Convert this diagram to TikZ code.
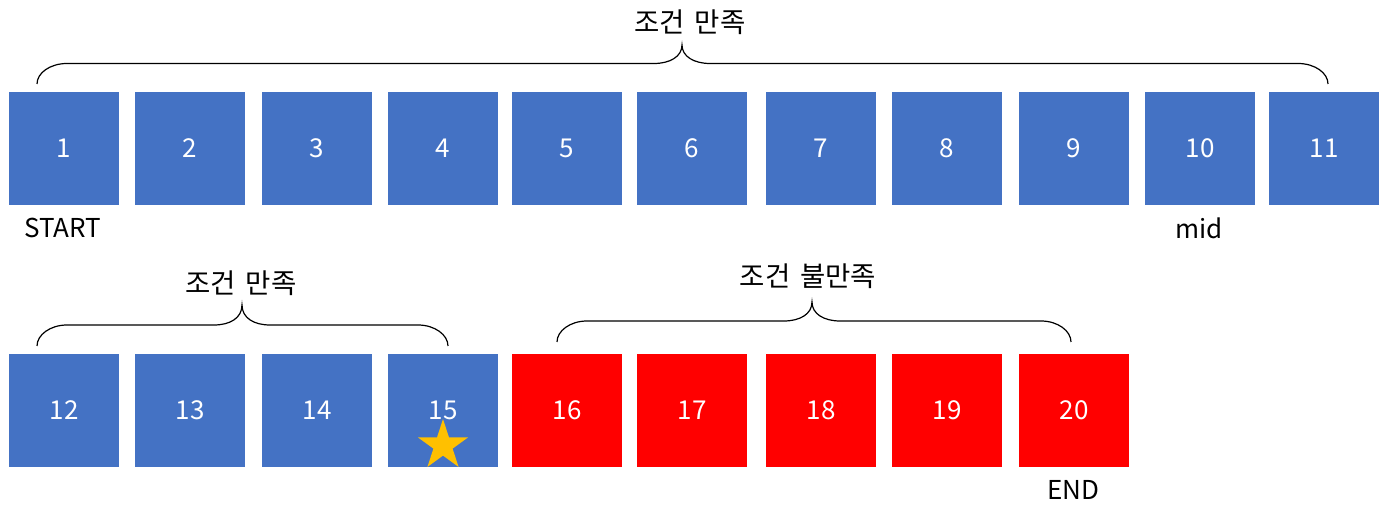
\documentclass[tikz,border=0pt]{standalone}
\usepackage{fontspec}
\setmainfont{Noto Sans CJK KR}
\definecolor{boxblue}{HTML}{4472C4}
\definecolor{boxred}{HTML}{FF0000}
\definecolor{stargold}{HTML}{FFC000}
\newcommand\mybrace[6]{%
 \draw[bracestyle] (#1,#5) .. controls (#1,{#5-11}) and ({#1+13},#4) .. ({#1+30},#4) -- ({#3-28},#4) .. controls ({#3-12},#4) and (#3,{#4-7}) .. (#3,#6) .. controls (#3,{#4-7}) and ({#3+12},#4) .. ({#3+28},#4) -- ({#2-30},#4) .. controls ({#2-13},#4) and (#2,{#5-11}) .. (#2,#5);}
\tikzset{
 cell/.style={minimum width=110pt, minimum height=113pt, inner sep=0pt, text=white, font=\fontsize{26}{30}\selectfont},
 bluecell/.style={cell, fill=boxblue},
 redcell/.style={cell, fill=boxred},
 lbl/.style={text=black, inner sep=0pt, font=\fontsize{26}{30}\selectfont},
 kor/.style={text=black, inner sep=0pt, font=\fontsize{27.5}{32}\selectfont},
 bracestyle/.style={draw=black, line width=1.2pt},
}
\begin{document}
\begin{tikzpicture}[x=1pt,y=-1pt]
\useasboundingbox (0,0) rectangle (1385,510);
% top row
\foreach \n/\x in {1/64,2/190,3/317,4/443,5/567,6/692,7/821,8/947,9/1074,10/1200,11/1324}{
 \node[bluecell] (b\n) at (\x,148.5) {\n};
}
% bottom row
\foreach \n/\x in {12/64,13/190,14/317,15/443}{
 \node[bluecell] (b\n) at (\x,410.5) {\n};
}
\foreach \n/\x in {16/567,17/692,18/821,19/947,20/1074}{
 \node[redcell] (b\n) at (\x,410.5) {\n};
}
% star
\coordinate (star15) at (443,445.5);
\fill[stargold] ({443+26.5*cos(-90)},{445.5+26.5*sin(-90)})
  \foreach \k in {1,...,9}{
    -- ({443+(mod(\k,2)==0 ? 26.5 : 10.1)*cos(-90+36*\k)},{445.5+(mod(\k,2)==0 ? 26.5 : 10.1)*sin(-90+36*\k)})
  } -- cycle;
% labels
\node[lbl] (startlbl) at (63,228) {START};
\node[lbl] (midlbl) at (1199,228) {mid};
\node[lbl] (endlbl) at (1073,490) {END};
% braces and titles
\mybrace{37}{1328}{682}{63.5}{84}{45}
\node[kor] (title1) at (690,22) {조건\hspace{0.35em}만족};
\mybrace{37}{448}{242}{325}{346}{305}
\node[kor] (title2) at (241,283) {조건\hspace{0.35em}만족};
\mybrace{557}{1071}{812}{321}{342}{302}
\node[kor] (title3) at (808,276) {조건\hspace{0.35em}불만족};
\end{tikzpicture}
\end{document}
